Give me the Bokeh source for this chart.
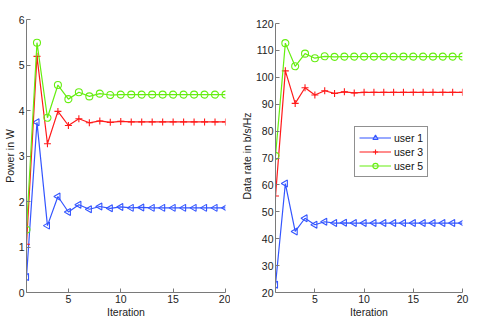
import math
from bokeh.plotting import figure
from bokeh.layouts import row
from bokeh.models import FixedTicker, Range1d
from bokeh.embed import file_html
from bokeh.resources import INLINE

iterations = list(range(1, 21))

power_user1 = [0.34, 3.74, 1.47, 2.11, 1.77, 1.93, 1.83, 1.89, 1.85, 1.88,
               1.86, 1.87, 1.86, 1.86, 1.86, 1.86, 1.86, 1.86, 1.86, 1.86]
power_user3 = [1.06, 5.19, 3.27, 3.98, 3.67, 3.82, 3.73, 3.77, 3.74, 3.76,
               3.75, 3.75, 3.75, 3.75, 3.75, 3.75, 3.75, 3.75, 3.75, 3.75]
power_user5 = [1.38, 5.49, 3.84, 4.56, 4.25, 4.40, 4.31, 4.37, 4.34, 4.35,
               4.35, 4.35, 4.35, 4.35, 4.35, 4.35, 4.35, 4.35, 4.35, 4.35]

rate_user1 = [22.9, 60.5, 42.7, 47.6, 45.2, 46.3, 45.8, 45.9, 45.8, 45.8,
              45.8, 45.8, 45.8, 45.8, 45.8, 45.8, 45.8, 45.8, 45.8, 45.8]
rate_user3 = [55.9, 102.4, 90.3, 96.1, 93.4, 95.0, 94.0, 94.6, 94.2, 94.4,
              94.4, 94.4, 94.4, 94.4, 94.4, 94.4, 94.4, 94.4, 94.4, 94.4]
rate_user5 = [70.8, 112.7, 104.1, 108.8, 107.1, 107.8, 107.6, 107.7, 107.7, 107.7,
              107.7, 107.7, 107.7, 107.7, 107.7, 107.7, 107.7, 107.7, 107.7, 107.7]

x_ticks = [5, 10, 15, 20]
power_ticks = [0, 1, 2, 3, 4, 5, 6]
rate_ticks = [20, 30, 40, 50, 60, 70, 80, 90, 100, 110, 120]

labels = ["user 1", "user 3", "user 5"]
colors = ["#3355ff", "#ff1a1a", "#66ee11"]
markers = ["triangle", "cross", "circle"]
angles = [math.pi / 2, 0, 0]

FONT = "Liberation Sans"
AXIS_COLOR = "#7a7a7a"
TEXT_COLOR = "#222222"


def style(p, ylabel, yticks):
    p.xaxis.ticker = FixedTicker(ticks=x_ticks)
    p.yaxis.ticker = FixedTicker(ticks=yticks)
    p.xaxis.axis_label = "Iteration"
    p.yaxis.axis_label = ylabel
    p.yaxis.bounds = (yticks[0], yticks[-1])
    for ax in (p.xaxis[0], p.yaxis[0]):
        ax.axis_line_color = AXIS_COLOR
        ax.major_tick_line_color = AXIS_COLOR
        ax.major_tick_in = 4
        ax.major_tick_out = 0
        ax.minor_tick_line_color = None
        ax.major_label_text_font = FONT
        ax.major_label_text_font_size = "10.5px"
        ax.major_label_text_color = TEXT_COLOR
        ax.axis_label_text_font = FONT
        ax.axis_label_text_font_size = "10.5px"
        ax.axis_label_text_font_style = "normal"
        ax.axis_label_text_color = TEXT_COLOR
        ax.major_label_standoff = 2
        ax.axis_label_standoff = 0
    p.xgrid.visible = False
    p.ygrid.visible = False
    p.outline_line_color = None
    p.background_fill_color = "white"
    p.border_fill_color = "white"


def draw(p, series):
    for ys, lab, col, mk, ang in zip(series, labels, colors, markers, angles):
        p.line(iterations, ys, line_color=col, line_width=1.2, legend_label=lab)
        p.scatter(iterations, ys, marker=mk, angle=ang, size=7, line_color=col,
                  fill_color=None, line_width=1.1, legend_label=lab)


p1 = figure(frame_width=199, frame_height=273, output_backend="svg",
            toolbar_location=None, title=None,
            x_range=Range1d(1, 20), y_range=Range1d(0, 6),
            min_border_left=20, min_border_right=5, min_border_top=19,
            min_border_bottom=10)
draw(p1, [power_user1, power_user3, power_user5])
style(p1, "Power in W", power_ticks)
p1.legend.visible = False

# right panel: frame as tall as the left one; 120 sits 4px below the frame top
p2 = figure(frame_width=187, frame_height=273, output_backend="svg",
            toolbar_location=None, title=None,
            x_range=Range1d(1, 20), y_range=Range1d(20, 120 + 4 * 100 / 269),
            min_border_left=45, min_border_right=19, min_border_top=19,
            min_border_bottom=10)
draw(p2, [rate_user1, rate_user3, rate_user5])
style(p2, "Data rate in b/s/Hz", rate_ticks)
lg = p2.legend[0]
lg.location = (79, 115)
lg.border_line_color = TEXT_COLOR
lg.border_line_width = 1
lg.background_fill_color = "white"
lg.background_fill_alpha = 1
lg.label_text_font = FONT
lg.label_text_font_size = "10.5px"
lg.label_text_color = "#111111"
lg.glyph_width = 32
lg.glyph_height = 13
lg.label_height = 13
lg.label_standoff = 3
lg.spacing = 1
lg.padding = 4
lg.margin = 0

layout = row(p1, p2)
open("out.html", "w").write(file_html(layout, INLINE))
